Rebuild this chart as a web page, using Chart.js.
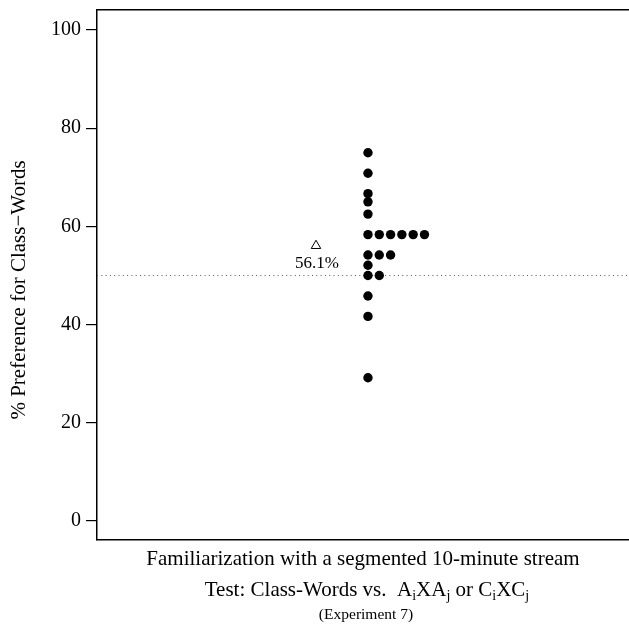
<!DOCTYPE html>
<html>
<head>
<meta charset="utf-8">
<title>Class-Words preference</title>
<script src="https://cdn.jsdelivr.net/npm/chart.js@4.4.1/dist/chart.umd.min.js"></script>
<style>
  html, body { margin: 0; padding: 0; background: #fff; }
  #wrap { width: 629px; height: 627px; }
</style>
</head>
<body>
<div id="wrap"><canvas id="dotChart" width="629" height="627"></canvas></div>
<script>
// % of class-word choices per subject
var prefScores = [75, 70.83, 66.67, 65, 62.5,
                  58.33, 58.33, 58.33, 58.33, 58.33, 58.33,
                  54.17, 54.17, 54.17, 52.08, 50, 50,
                  45.83, 41.67, 29.17];
var yTicks = [0, 20, 40, 60, 80, 100];
var chanceLevel = 50;
var yTitle = "% Preference for Class\u2212Words";
var captionTop = "Familiarization with a segmented 10-minute stream";
// [text, isSubscript]
var captionTest = [["Test: Class-Words vs.  A", false], ["i", true], ["XA", false], ["j", true],
                   [" or C", false], ["i", true], ["XC", false], ["j", true]];
var captionExp = "(Experiment 7)";

var serif = "'Liberation Serif', 'Times New Roman', serif";

// stack equal scores side by side, like a stripchart
var seen = {};
var dots = prefScores.map(function (v) {
  var k = v.toFixed(2);
  seen[k] = (seen[k] || 0) + 1;
  return { x: seen[k] - 1, y: v };
});

var meanScore = prefScores.reduce(function (a, b) { return a + b; }, 0) / prefScores.length;
var meanX = -4.6;
var xMin = -23.98, xMax = 23.1;

var labelsPlugin = {
  id: 'labels',
  afterDraw: function (chart) {
    var ctx = chart.ctx;
    var area = chart.chartArea;
    var xs = chart.scales.x, ys = chart.scales.y;
    ctx.save();
    ctx.fillStyle = '#000';
    ctx.textBaseline = 'middle';
    ctx.textAlign = 'center';

    // mean value under the triangle
    ctx.font = '17px ' + serif;
    ctx.fillText(meanScore.toFixed(1) + '%', xs.getPixelForValue(meanX) + 1, ys.getPixelForValue(meanScore) + 18);

    // y axis title
    ctx.save();
    ctx.translate(19, 290);
    ctx.rotate(-Math.PI / 2);
    ctx.font = '21px ' + serif;
    ctx.fillText(yTitle, 0, 0);
    ctx.restore();

    var cx = (area.left + area.right) / 2;
    ctx.font = '21px ' + serif;
    ctx.fillText(captionTop, cx, 559);

    // second line with subscripts
    ctx.textAlign = 'left';
    var big = '21px ' + serif, small = '14px ' + serif;
    var total = 0;
    captionTest.forEach(function (p) {
      ctx.font = p[1] ? small : big;
      total += ctx.measureText(p[0]).width;
    });
    var x = cx + 4 - total / 2;
    captionTest.forEach(function (p) {
      ctx.font = p[1] ? small : big;
      ctx.fillText(p[0], x, p[1] ? 596 : 590);
      x += ctx.measureText(p[0]).width;
    });

    ctx.textAlign = 'center';
    ctx.font = '15.5px ' + serif;
    ctx.fillText(captionExp, cx + 3, 615);
    ctx.restore();
  }
};

function flatX(s, h) {
  s.height = h;
  s.paddingLeft = 0;
  s.paddingRight = 0;
}

var chart = new Chart(document.getElementById('dotChart').getContext('2d'), {
  type: 'scatter',
  data: {
    datasets: [{
      data: dots,
      pointStyle: 'circle',
      pointRadius: 4.7,
      pointBackgroundColor: '#000',
      pointBorderColor: '#000',
      pointBorderWidth: 0
    }, {
      data: [{ x: meanX, y: meanScore }],
      pointStyle: 'triangle',
      pointRadius: 5.5,
      pointBackgroundColor: 'rgba(0,0,0,0)',
      pointBorderColor: '#000',
      pointBorderWidth: 1
    }, {
      type: 'line',
      data: [{ x: xMin, y: chanceLevel }, { x: xMax, y: chanceLevel }],
      borderColor: '#555',
      borderWidth: 1,
      borderDash: [1, 3.3],
      pointRadius: 0
    }]
  },
  options: {
    responsive: false,
    animation: false,
    devicePixelRatio: 1,
    layout: { padding: 0, autoPadding: false },
    plugins: { legend: { display: false }, tooltip: { enabled: false } },
    scales: {
      x: {
        type: 'linear', position: 'bottom', min: xMin, max: xMax,
        ticks: { display: false },
        grid: { display: false },
        border: { display: true, color: '#000', width: 1.5 },
        afterFit: function (s) { flatX(s, 87); }
      },
      x2: {
        type: 'linear', position: 'top', min: xMin, max: xMax,
        ticks: { display: false },
        grid: { display: false },
        border: { display: true, color: '#000', width: 1.5 },
        afterFit: function (s) { flatX(s, 10); }
      },
      y: {
        min: -3.87, max: 104.07,
        afterBuildTicks: function (s) {
          s.ticks = yTicks.map(function (v) { return { value: v }; });
        },
        ticks: { color: '#000', font: { family: serif, size: 20 }, padding: 5 },
        grid: { drawOnChartArea: false, drawTicks: true, tickLength: 11, color: '#000', lineWidth: 1.2 },
        border: { display: true, color: '#000', width: 1.5 },
        afterFit: function (s) {
          s.width = 97;
          s.paddingTop = 0;
          s.paddingBottom = 0;
        }
      }
    }
  },
  plugins: [labelsPlugin]
});
</script>
</body>
</html>
